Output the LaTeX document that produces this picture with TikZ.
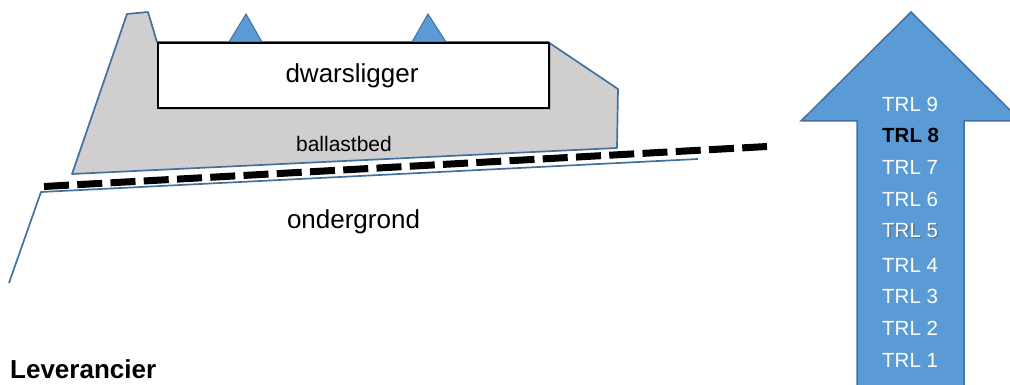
\documentclass[tikz,border=0pt]{standalone}
\usepackage{fontspec}
\setmainfont{Liberation Sans}
\definecolor{ballast}{HTML}{D0CECE}
\definecolor{bluefill}{HTML}{5B9BD5}
\definecolor{blueline}{HTML}{41719C}
\begin{document}
\begin{tikzpicture}[x=1pt,y=-1pt,
  outline/.style={draw=blueline, line width=1.7pt, line join=round},
  bluetri/.style={draw=blueline, fill=bluefill, line width=1pt},
  lbl/.style={inner sep=0pt, anchor=base},
  trl/.style={inner sep=0pt, anchor=base west, text=white, font=\fontsize{20.5}{24}\selectfont},
  bigtxt/.style={font=\fontsize{26}{30}\selectfont},
]
\useasboundingbox (0,0) rectangle (1010,385);
\clip (0,0) rectangle (1010,385);
% ballast bed
\draw[outline, fill=ballast] (72,174) -- (127,14) -- (148,12) -- (157,42) -- (548,42) -- (618,89) -- (617,148) -- cycle;
% rail seats
\draw[bluetri] (229,42) -- (246,14) -- (262,42) -- cycle;
\draw[bluetri] (412,42) -- (428,14) -- (446,42) -- cycle;
% sleeper
\fill[black!40, opacity=0.5] (160,45) rectangle (551,110);
\node[draw=black, line width=2.2pt, fill=white, minimum width=391pt, minimum height=65pt, inner sep=0pt, anchor=north west] (sleeper) at (157,42) {};
\node[lbl, bigtxt] (dw) at (352,83) {dwarsligger};
\node[lbl, font=\fontsize{21}{25}\selectfont] (bb) at (344,152) {ballastbed};
% dashed boundary
\draw[line width=7pt, dash pattern=on 25pt off 8.3pt] (44,186.5) -- (767,146.5);
% subsoil
\draw[outline] (9,283) -- (41,192) -- (698,159);
\node[lbl, bigtxt] (og) at (353.5,229) {ondergrond};
\node[inner sep=0pt, anchor=base west, font=\bfseries\fontsize{26}{30}\selectfont] (lev) at (10,378) {Leverancier};
% TRL arrow
\draw[draw=blueline, fill=bluefill, line width=1.5pt, line join=miter] (911,12) -- (1021,121) -- (964,121) -- (964,400) -- (857,400) -- (857,121) -- (801,121) -- cycle;
\node[trl] (t9) at (882,112) {TRL 9};
\node[trl, text=black, font=\bfseries\fontsize{20.5}{24}\selectfont] (t8) at (882,143) {TRL 8};
\node[trl] (t7) at (882,175) {TRL 7};
\node[trl] (t6) at (882,207) {TRL 6};
\node[trl, text=black!70, opacity=0.5] (t5s) at (883.5,238.5) {TRL 5};
\node[trl] (t5) at (882,237) {TRL 5};
\node[trl] (t4) at (882,272) {TRL 4};
\node[trl] (t3) at (882,303) {TRL 3};
\node[trl] (t2) at (882,335) {TRL 2};
\node[trl] (t1) at (882,367) {TRL 1};
\end{tikzpicture}
\end{document}
